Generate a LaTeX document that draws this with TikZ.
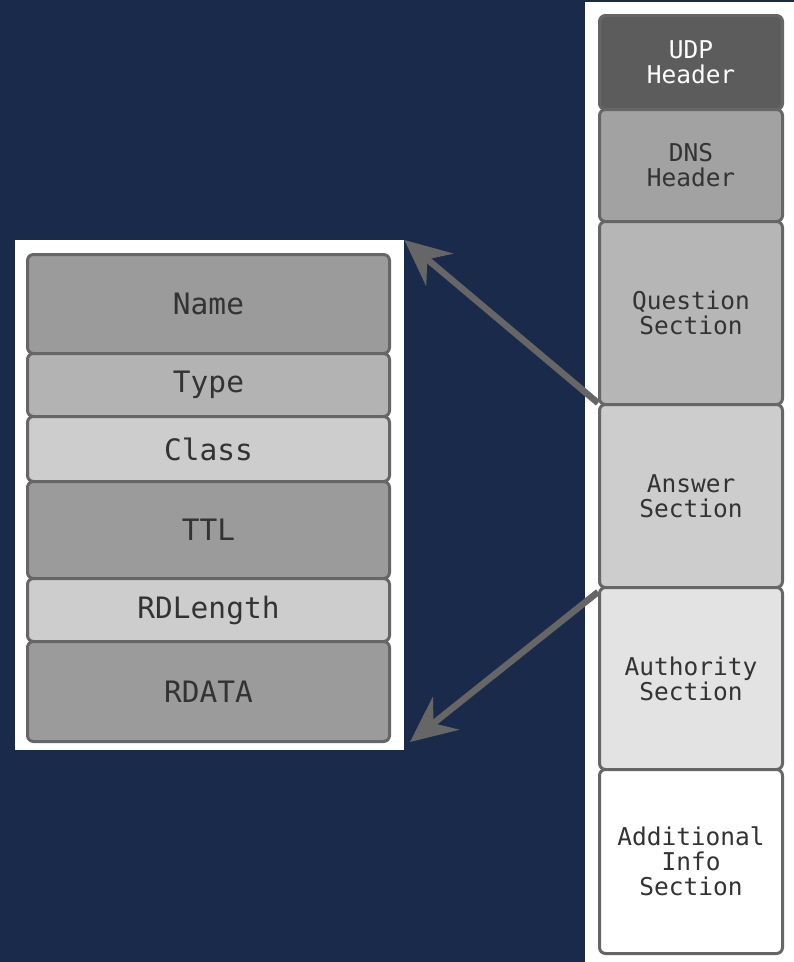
\documentclass[tikz,border=0pt]{standalone}
\usepackage{fontspec}
\setmonofont{DejaVu Sans Mono}
\usetikzlibrary{arrows.meta}
\definecolor{navy}{HTML}{1A2A4A}
\definecolor{edge}{HTML}{666666}
\definecolor{ink}{HTML}{333333}
\definecolor{gA}{HTML}{5C5C5C}
\definecolor{gB}{HTML}{A2A2A2}
\definecolor{gC}{HTML}{B6B6B6}
\definecolor{gD}{HTML}{CDCDCD}
\definecolor{gE}{HTML}{E3E3E3}
\definecolor{gF}{HTML}{9B9B9B}
\definecolor{gG}{HTML}{B3B3B3}
\tikzset{
  field/.style={draw=edge, line width=3pt, rounded corners=6pt, anchor=north west,
    inner sep=0pt, align=center, text=ink, font=\ttfamily},
  seg/.style={field, minimum width=183pt, font=\fontsize{24.5}{25}\ttfamily},
  rr/.style={field, minimum width=362pt, font=\fontsize{29.5}{30}\ttfamily},
  panel/.style={fill=white, draw=none, inner sep=0pt, anchor=north west},
  link/.style={draw=edge, line width=6.5pt, -{Stealth[length=46pt,width=42pt,inset=16pt]}},
}
\begin{document}
\begin{tikzpicture}[x=1pt,y=-1pt]
  \fill[navy] (0,0) rectangle (794,962);
  \useasboundingbox (0,0) rectangle (794,962);
  % packet column
  \node[panel, minimum width=209pt, minimum height=960pt] (pkt) at (585,2) {};
  \node[seg, fill=gA, text=white, minimum height=94pt] (udp) at (598,14) {UDP\\Header};
  \node[seg, fill=gB, minimum height=112pt] (dns) at (598,108) {DNS\\Header};
  \node[seg, fill=gC, minimum height=183pt] (qs) at (598,220) {Question\\Section};
  \node[seg, fill=gD, minimum height=183pt] (ans) at (598,403) {Answer\\Section};
  \node[seg, fill=gE, minimum height=182pt] (auth) at (598,586) {Authority\\Section};
  \node[seg, fill=white, minimum height=184pt] (add) at (598,768) {Additional\\Info\\Section};
  % resource record layout
  \node[panel, minimum width=389pt, minimum height=510pt] (rec) at (15,240) {};
  \node[rr, fill=gF, minimum height=99pt] (name) at (26,253) {Name};
  \node[rr, fill=gG, minimum height=63pt] (type) at (26,352) {Type};
  \node[rr, fill=gD, minimum height=65pt] (class) at (26,415) {Class};
  \node[rr, fill=gF, minimum height=97pt] (ttl) at (26,480) {TTL};
  \node[rr, fill=gD, minimum height=63pt] (rdlen) at (26,577) {RDLength};
  \node[rr, fill=gF, minimum height=100pt] (rdata) at (26,640) {RDATA};
  % connectors
  \coordinate (lowtip) at (410,742);
  \draw[link] (ans.north west) -- (rec.north east);
  \draw[link] ([yshift=-3pt]ans.south west) -- (lowtip);
\end{tikzpicture}
\end{document}
